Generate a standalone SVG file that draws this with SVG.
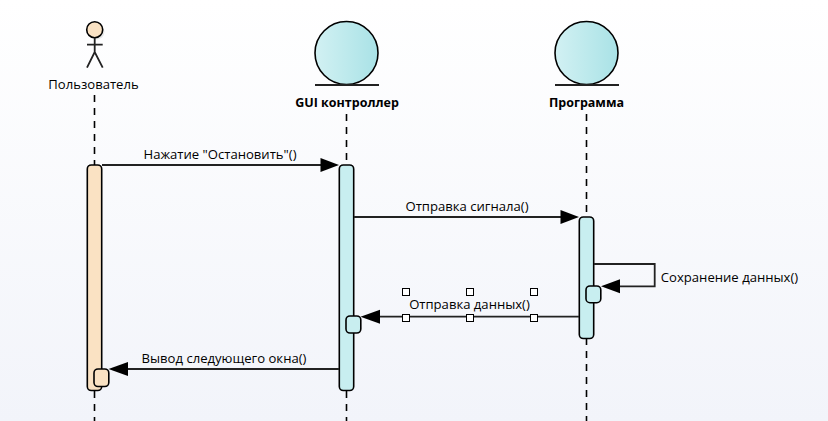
<svg xmlns="http://www.w3.org/2000/svg" width="828" height="421" viewBox="0 0 828 421">
  <style>
    text { font-family: "Open Sans", "Noto Sans", "DejaVu Sans", sans-serif; font-size: 13.1px; fill: #000; text-anchor: middle; }
    .b { font-weight: 700; font-size: 12.5px; }
    .ll { stroke: #000; stroke-width: 1.6; stroke-dasharray: 7 6; fill: none; }
    .ln { stroke: #222; stroke-width: 1.8; fill: none; }
    .o { stroke: #000; stroke-width: 1.6; }
    .ua { fill: #fae2c3; }
    .ca { fill: #c8eef0; }
    .h { fill: #fff; stroke: #000; stroke-width: 1; }
    .hd { fill: #000; stroke: none; }
  </style>
  <defs>
    <linearGradient id="bg" x1="0" y1="0" x2="0" y2="1">
      <stop offset="0" stop-color="#ffffff"/>
      <stop offset="1" stop-color="#f2f4fa"/>
    </linearGradient>
    <linearGradient id="cg" x1="0" y1="0" x2="1" y2="0">
      <stop offset="0" stop-color="#d2f1f3"/>
      <stop offset="1" stop-color="#a9e2e6"/>
    </linearGradient>
  </defs>
  <rect width="828" height="421" fill="url(#bg)"/>
  <g id="lifelines">
    <path class="ll" d="M94.5 95V165M94.5 391V421"/>
    <path class="ll" d="M346.5 114V165M346.5 391V421"/>
    <path class="ll" d="M586.5 114V217M586.5 338V421"/>
  </g>
  <g id="user">
    <circle cx="96.5" cy="31.5" r="8" fill="#d8d8d8" opacity="0.6"/>
    <circle class="o ua" cx="94.7" cy="29.7" r="8"/>
    <path class="ln" d="M94.7 37.7V52M87 44.7H102.7M87 67.7L94.7 52L102.7 67.7"/>
    <text x="93.5" y="89">Пользователь</text>
  </g>
  <g id="gui">
    <circle class="o" cx="346.5" cy="53" r="31.5" fill="url(#cg)"/>
    <path class="ln" d="M315 85H379"/>
    <text class="b" x="347" y="107">GUI контроллер</text>
  </g>
  <g id="program">
    <circle class="o" cx="586.5" cy="53" r="31.5" fill="url(#cg)"/>
    <path class="ln" d="M555 85H619"/>
    <text class="b" x="586.5" y="107">Программа</text>
  </g>
  <g id="activations">
    <rect class="o ua" x="87.3" y="165" width="14.4" height="225.5" rx="4"/>
    <rect class="o ca" x="339.3" y="165" width="14.4" height="225.5" rx="4"/>
    <rect class="o ca" x="579.3" y="217" width="14.4" height="121.5" rx="4"/>
    <rect class="o ua" x="94" y="369" width="14.8" height="17.5" rx="4"/>
    <rect class="o ca" x="346" y="316" width="14.8" height="17" rx="4"/>
    <rect class="o ca" x="586" y="286" width="14.8" height="16.7" rx="4"/>
  </g>
  <g id="connectors">
    <path class="ln" d="M102 165H325"/>
    <path class="hd" d="M339 165L320.5 158V172Z"/>
    <path class="ln" d="M354 217H565"/>
    <path class="hd" d="M579 217L560.5 210V224Z"/>
    <path class="ln" d="M594 264H654.7V286.3H615"/>
    <path class="hd" d="M601 286.3L620 279.3V293.3Z"/>
    <path class="ln" d="M579 316.7H375"/>
    <path class="hd" d="M360.5 316.7L380 309.7V323.7Z"/>
    <path class="ln" d="M339 369H124"/>
    <path class="hd" d="M108.5 369L128 362V376Z"/>
  </g>
  <g id="labels">
    <text x="220" y="158.5">Нажатие "Остановить"()</text>
    <text x="467" y="210.5">Отправка сигнала()</text>
    <text x="729.5" y="282">Сохранение данных()</text>
    <text x="469.5" y="309">Отправка данных()</text>
    <text x="224" y="362.5">Вывод следующего окна()</text>
  </g>
  <g id="handles">
    <rect class="h" x="402.5" y="288.5" width="7" height="7"/>
    <rect class="h" x="466.5" y="288.5" width="7" height="7"/>
    <rect class="h" x="530.5" y="288.5" width="7" height="7"/>
    <rect class="h" x="402.5" y="314.5" width="7" height="7"/>
    <rect class="h" x="466.5" y="314.5" width="7" height="7"/>
    <rect class="h" x="530.5" y="314.5" width="7" height="7"/>
  </g>
</svg>
